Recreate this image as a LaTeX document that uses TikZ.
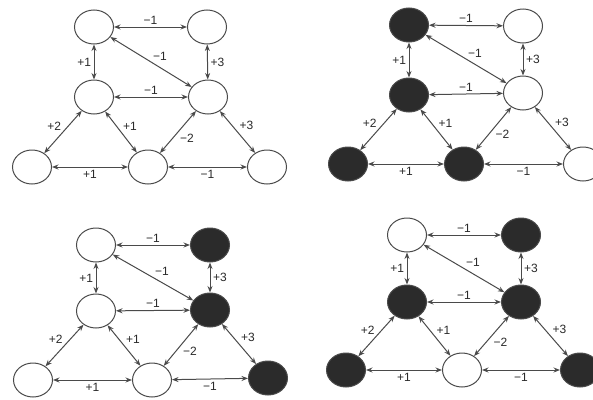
\documentclass[tikz,border=0pt]{standalone}
\usepackage{fontspec}
\setmainfont{Liberation Sans}
\usetikzlibrary{shapes.geometric,arrows.meta}
\definecolor{edgecol}{HTML}{4A4A4A}
\definecolor{darkfill}{HTML}{2B2B2B}
\definecolor{txtcol}{HTML}{2A2A2A}
\tikzset{
  vtx/.style={ellipse, draw=edgecol, line width=1pt, minimum width=39pt, minimum height=34pt, inner sep=0pt},
  wn/.style={vtx, fill=white},
  bn/.style={vtx, fill=darkfill},
  lnk/.style={draw=edgecol, line width=1pt, {Stealth[length=6.5pt,width=5pt]}-{Stealth[length=6.5pt,width=5pt]}},
  lab/.style={font=\fontsize{12}{12}\selectfont, text=txtcol, inner sep=2.5pt}
}
\newcommand{\myedges}[1]{%
  \draw[lnk] (#1A) -- node[lab,above] {−1} (#1B);
  \draw[lnk] (#1A) -- node[lab,left] {+1} (#1C);
  \draw[lnk] (#1A) -- node[lab,above right=-1pt] {−1} (#1D);
  \draw[lnk] (#1B) -- node[lab,right] {+3} (#1D);
  \draw[lnk] (#1C) -- node[lab,above] {−1} (#1D);
  \draw[lnk] (#1C) -- node[lab,above left=-1pt] {+2} (#1E);
  \draw[lnk] (#1C) -- node[lab,above right=-1pt] {+1} (#1F);
  \draw[lnk] (#1D) -- node[lab,below right=-1pt] {−2} (#1F);
  \draw[lnk] (#1D) -- node[lab,above right=-1pt] {+3} (#1G);
  \draw[lnk] (#1E) -- node[lab,below] {+1} (#1F);
  \draw[lnk] (#1F) -- node[lab,below] {−1} (#1G);
}
\begin{document}
\begin{tikzpicture}[x=1pt,y=-1pt]
\clip (0,0) rectangle (593,399);
\fill[white] (0,0) rectangle (593,399);
% panel 1
\node[wn] (pA) at (94,27) {};
\node[wn] (pB) at (207,27) {};
\node[wn] (pC) at (94,97) {};
\node[wn] (pD) at (208,97) {};
\node[wn] (pE) at (32,167) {};
\node[wn] (pF) at (148,167) {};
\node[wn] (pG) at (267,167) {};
\myedges{p}
% panel 2
\node[bn] (qA) at (409,25) {};
\node[wn] (qB) at (523,26) {};
\node[bn] (qC) at (409,95) {};
\node[wn] (qD) at (523,93) {};
\node[bn] (qE) at (348,164) {};
\node[bn] (qF) at (464,164) {};
\node[wn] (qG) at (583,164) {};
\myedges{q}
% panel 3
\node[wn] (rA) at (96,245) {};
\node[bn] (rB) at (210,245) {};
\node[wn] (rC) at (96,311) {};
\node[bn] (rD) at (210,310) {};
\node[wn] (rE) at (33,380) {};
\node[wn] (rF) at (152,380) {};
\node[bn] (rG) at (268,378) {};
\myedges{r}
% panel 4
\node[wn] (sA) at (407,235) {};
\node[bn] (sB) at (521,235) {};
\node[bn] (sC) at (407,302) {};
\node[bn] (sD) at (521,302) {};
\node[bn] (sE) at (346,370) {};
\node[wn] (sF) at (462,370) {};
\node[bn] (sG) at (580,370) {};
\myedges{s}
\end{tikzpicture}
\end{document}
